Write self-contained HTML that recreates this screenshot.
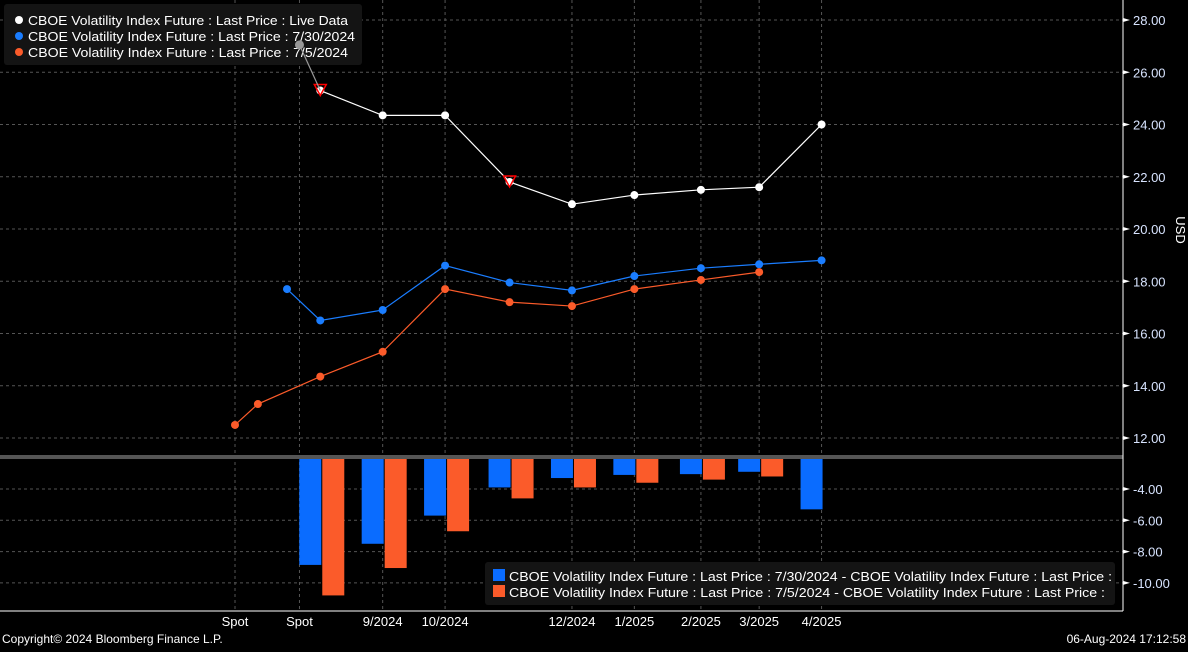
<!DOCTYPE html>
<html><head><meta charset="utf-8"><style>
body{margin:0;background:#000;width:1188px;height:647px;overflow:hidden;font-family:"Liberation Sans",sans-serif}
svg text{font-family:"Liberation Sans",sans-serif}
</style></head><body>
<svg id="c" width="1188" height="647" xmlns="http://www.w3.org/2000/svg"></svg>
<script>
const liveDays=[31,41,71,101,132,162,192,224,252,282];
const liveVals=[27.05,25.3,24.35,24.35,21.8,20.95,21.3,21.5,21.6,24.0];
const julDays=[25,41,71,101,132,162,192,224,252,282];
const julVals=[17.7,16.5,16.9,18.6,17.95,17.65,18.2,18.5,18.65,18.8];
const junDays=[0,11,41,71,101,132,162,192,224,252];
const junVals=[12.5,13.3,14.35,15.3,17.7,17.2,17.05,17.7,18.05,18.35];
const barDays=[41,71,101,132,162,192,224,252,282];
const diffJul=[-8.85,-7.5,-5.7,-3.9,-3.3,-3.1,-3.05,-2.9,-5.3];
const diffJun=[-10.8,-9.05,-6.7,-4.6,-3.9,-3.6,-3.4,-3.2,null];
const xLabelDays=[0,31,71,101,162,192,224,252,282];
const xLabels=["Spot","Spot","9/2024","10/2024","12/2024","1/2025","2/2025","3/2025","4/2025"];
const topTicks=[12,14,16,18,20,22,24,26,28];
const botTicks=[-4,-6,-8,-10];

const S=document.getElementById('c');const NS="http://www.w3.org/2000/svg";
function mk(t,a,p){const e=document.createElementNS(NS,t);for(const k in a)e.setAttribute(k,a[k]);(p||S).appendChild(e);return e;}
const X=d=>235+d*2.08;
const Y=v=>20+(28-v)*26.125;
const YB=v=>489+(-4-v)*15.65;
topTicks.forEach(v=>{const l=mk('line',{x1:0,x2:1123,y1:Y(v),y2:Y(v),stroke:'#555','stroke-dasharray':'3,3'});});
botTicks.forEach(v=>{const l=mk('line',{x1:0,x2:1123,y1:YB(v),y2:YB(v),stroke:'#555','stroke-dasharray':'3,3'});});
xLabelDays.forEach(d=>{const l=mk('line',{x1:X(d),x2:X(d),y1:0,y2:611,stroke:'#555','stroke-dasharray':'3,3'});});
barDays.forEach((d,i)=>{
 const b=mk('rect',{x:X(d)-21,y:459,width:22,height:Math.max(0,YB(diffJul[i])-459),fill:'#0a6cff'});
 
 if(diffJun[i]!==null){const o=mk('rect',{x:X(d)+2,y:459,width:22,height:Math.max(0,YB(diffJun[i])-459),fill:'#fb5b2a'});
 }
});
const sep=mk('rect',{x:0,y:455,width:1123,height:4,fill:'#555'});
function series(days,vals,col,name,skip){
 const ds=days.slice(skip),vs=vals.slice(skip);
 const p=mk('polyline',{points:ds.map((d,i)=>X(d)+','+Y(vs[i])).join(' '),fill:'none',stroke:col,'stroke-width':1.2});
 
 ds.forEach((d,i)=>{const c=mk('circle',{cx:X(d),cy:Y(vs[i]),r:4,fill:col});});
}
series(julDays,julVals,'#1a7dff','series-7-30',0);
series(junDays,junVals,'#fb5b2a','series-7-5',0);
series(liveDays,liveVals,'#ffffff','series-live',1);
[1,4].forEach(i=>{const x=X(liveDays[i]),y=Y(liveVals[i]);const t=mk('polygon',{points:`${x-6},${y-6} ${x+6},${y-6} ${x},${y+5}`,fill:'none',stroke:'#f00','stroke-width':1.5});});
mk('line',{x1:1123,x2:1123,y1:0,y2:611,stroke:'#fff'});
mk('line',{x1:0,x2:1123,y1:611,y2:611,stroke:'#fff'});
topTicks.forEach(v=>{const y=Y(v);mk('polygon',{points:`1123,${y-2} 1130,${y} 1123,${y+2}`,fill:'#fff'});
 const t=mk('text',{x:1133,y:y+5,fill:'#d8e4ff','font-size':13});t.textContent=v.toFixed(2);});
botTicks.forEach(v=>{const y=YB(v);mk('polygon',{points:`1123,${y-2} 1130,${y} 1123,${y+2}`,fill:'#fff'});
 const t=mk('text',{x:1133,y:y+5,fill:'#d8e4ff','font-size':13});t.textContent=v.toFixed(2);});
xLabelDays.forEach((d,i)=>{const t=mk('text',{x:X(d),y:626,fill:'#fff','font-size':13,'text-anchor':'middle'});t.textContent=xLabels[i];});
const u=mk('text',{x:1176,y:230,fill:'#fff','font-size':13,'text-anchor':'middle',transform:'rotate(90 1176 230)'});u.textContent='USD';
const lg=mk('rect',{x:4,y:4,width:358,height:61,rx:3,fill:'#141414'});
[['#fff','Live Data',320],['#1a7dff','7/30/2024',327],['#fb5b2a','7/5/2024',320]].forEach((e,i)=>{
 mk('circle',{cx:19,cy:20+i*16,r:4,fill:e[0]});
 const t=mk('text',{x:28,y:25+i*16,fill:'#fff','font-size':13,textLength:e[2],lengthAdjust:'spacingAndGlyphs'});t.textContent='CBOE Volatility Index Future : Last Price : '+e[1];});
// stale live point drawn above legend
const sl=mk('line',{x1:X(liveDays[0]),y1:Y(liveVals[0]),x2:X(liveDays[1]),y2:Y(liveVals[1]),stroke:'#999','stroke-width':1.2});
const g0=mk('circle',{cx:X(liveDays[0]),cy:Y(liveVals[0]),r:4.5,fill:'#999'});
const lb=mk('rect',{x:485,y:562,width:630,height:43,rx:3,fill:'#141414'});
[['#0a6cff','7/30/2024',603],['#fb5b2a','7/5/2024',596]].forEach((e,i)=>{
 mk('rect',{x:493,y:569+i*16,width:12,height:12,fill:e[0]});
 const t=mk('text',{x:509,y:581+i*16,fill:'#fff','font-size':13,textLength:e[2],lengthAdjust:'spacingAndGlyphs'});t.textContent='CBOE Volatility Index Future : Last Price : '+e[1]+' - CBOE Volatility Index Future : Last Price :';});
const cp=mk('text',{x:2,y:643,fill:'#fff','font-size':12});cp.textContent='Copyright© 2024 Bloomberg Finance L.P.';
const ts=mk('text',{x:1186,y:643,fill:'#fff','font-size':12,'text-anchor':'end'});ts.textContent='06-Aug-2024 17:12:58';
</script>
</body></html>
